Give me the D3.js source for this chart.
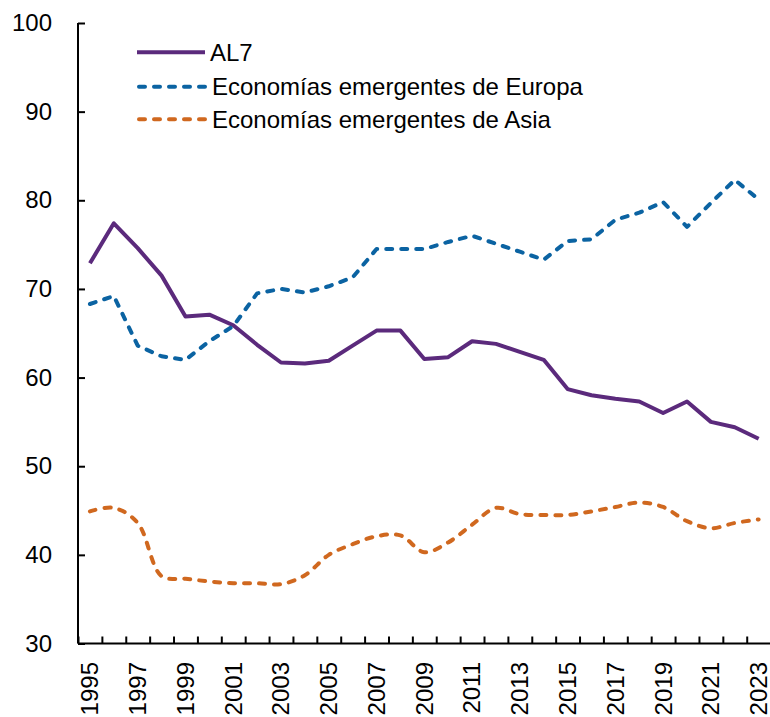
<!DOCTYPE html>
<html>
<head>
<meta charset="utf-8">
<script src="https://cdn.jsdelivr.net/npm/d3@7/dist/d3.min.js"></script>
<style>
  html, body { margin: 0; padding: 0; background: #fff; }
  svg { display: block; font-family: "Liberation Sans", Arial, sans-serif; }
</style>
</head>
<body>
<svg id="chart" width="770" height="717"></svg>
<script>
// Years on the horizontal axis
const years = d3.range(1995, 2024);

// Series values
const al7 = [72.9, 77.4, 74.6, 71.5, 66.9, 67.1, 65.9, 63.7, 61.7, 61.6, 61.9, 63.6, 65.3, 65.3,
  62.1, 62.3, 64.1, 63.8, 62.9, 62.0, 58.7, 58.0, 57.6, 57.3, 56.0, 57.3, 55.0, 54.4, 53.1];
const europa = [68.3, 69.2, 63.6, 62.4, 62.0, 64.1, 65.8, 69.5, 70.0, 69.6, 70.3, 71.3, 74.5, 74.5,
  74.5, 75.3, 76.0, 75.1, 74.2, 73.3, 75.4, 75.6, 77.8, 78.6, 79.8, 77.0, 79.7, 82.3, 80.1];
const asia = [44.9, 45.3, 43.6, 37.6, 37.3, 37.0, 36.8, 36.8, 36.7, 37.7, 40.0, 41.2, 42.1, 42.2,
  40.3, 41.4, 43.4, 45.3, 44.6, 44.5, 44.5, 44.9, 45.4, 45.9, 45.4, 43.8, 43.0, 43.6, 44.0];

// Axis ticks
const yTicks = [30, 40, 50, 60, 70, 80, 90, 100];
const xLabelYears = years.filter(yr => (yr - 1995) % 2 === 0);

const series = [
  { name: "AL7", values: al7, color: "#5B2A7C", dash: null, smooth: false },
  { name: "Economías emergentes de Europa", values: europa, color: "#0B63A2", dash: "6,9", smooth: false },
  { name: "Economías emergentes de Asia", values: asia, color: "#D0681F", dash: "6,9", smooth: true }
];

const svg = d3.select("#chart");
const plotLeft = 78, plotRight = 770.6, plotTop = 23, plotBottom = 643.5;

// Category slots: one slot per year, ticks on the slot boundaries
const slot = d3.scaleLinear().domain([0, years.length]).range([plotLeft, plotRight]);
const x = yr => slot(years.indexOf(yr) + 0.5);
const y = d3.scaleLinear().domain([30, 100]).range([plotBottom, plotTop]);

// Y axis
const yAxis = svg.append("g")
  .attr("transform", `translate(${plotLeft},0)`)
  .call(d3.axisLeft(y).tickValues(yTicks).tickSize(-7).tickPadding(26).tickFormat(d3.format("d")));
yAxis.select(".domain").attr("stroke", "#000").attr("stroke-width", 2).attr("d", `M0,${plotTop}V${plotBottom}`);
yAxis.selectAll(".tick line").attr("stroke", "#000").attr("stroke-width", 2);
yAxis.selectAll(".tick text").attr("font-size", 24).attr("fill", "#000")
  .attr("font-family", "Liberation Sans, Arial, sans-serif");

// X axis: tick marks on slot boundaries
const xAxis = svg.append("g")
  .attr("transform", `translate(0,${plotBottom})`)
  .call(d3.axisBottom(slot).tickValues(d3.range(0, years.length + 1)).tickSize(-7).tickFormat(""));
xAxis.select(".domain").attr("stroke", "#000").attr("stroke-width", 2).attr("d", `M${plotLeft},0H${plotRight}`);
xAxis.selectAll(".tick line").attr("stroke", "#000").attr("stroke-width", 2);

// X labels, rotated
svg.append("g").selectAll("text")
  .data(xLabelYears)
  .join("text")
  .attr("transform", d => `translate(${x(d)},662) rotate(-90)`)
  .attr("text-anchor", "end")
  .attr("dy", "0.35em")
  .attr("font-size", 24)
  .attr("fill", "#000")
  .text(d => d);

// Lines
series.forEach(s => {
  const line = d3.line()
    .x((v, i) => x(years[i]))
    .y(v => y(v))
    .curve(s.smooth ? d3.curveCatmullRom.alpha(0.5) : d3.curveLinear);
  svg.append("path")
    .datum(s.values)
    .attr("fill", "none")
    .attr("stroke", s.color)
    .attr("stroke-width", 4)
    .attr("stroke-linejoin", "round")
    .attr("stroke-linecap", s.dash ? "round" : "butt")
    .attr("stroke-dasharray", s.dash)
    .attr("d", line);
});

// Legend
const legend = svg.append("g");
const legendRows = [52.3, 86.7, 119.3];
series.forEach((s, i) => {
  const g = legend.append("g").attr("transform", `translate(0,${legendRows[i]})`);
  g.append("line")
    .attr("x1", s.dash ? 139 : 137).attr("x2", 205)
    .attr("stroke", s.color).attr("stroke-width", 4)
    .attr("stroke-linecap", s.dash ? "round" : "butt")
    .attr("stroke-dasharray", s.dash);
  g.append("text")
    .attr("x", i === 0 ? 210 : 212)
    .attr("dy", "0.35em")
    .attr("font-size", 24)
    .attr("fill", "#000")
    .text(s.name);
});
</script>
</body>
</html>
